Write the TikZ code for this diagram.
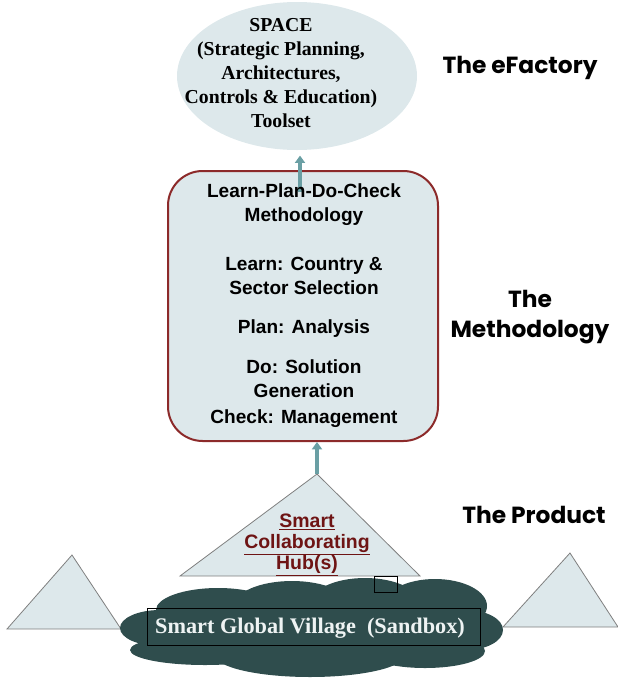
\documentclass[tikz,border=0pt]{standalone}
\usepackage{fontspec}
\setmainfont{Liberation Serif}
\newfontfamily\arialfont{Liberation Sans}
\newfontfamily\gothicfont{Poppins}
\usetikzlibrary{shapes.geometric,arrows.meta}
\definecolor{paleblue}{HTML}{DDE8EB}
\definecolor{flowteal}{HTML}{6A9FA4}
\definecolor{boxred}{HTML}{8C2A2A}
\definecolor{hubred}{HTML}{6E1414}
\definecolor{cloudgreen}{HTML}{2F4D4D}
\definecolor{edgegray}{HTML}{7F7F7F}
\definecolor{villagetext}{HTML}{EEF3F3}
\begin{document}
\begin{tikzpicture}[x=0.75pt,y=-0.75pt,
  flow/.style={flowteal, line width=2.3pt, -{Triangle[width=7.5pt,length=5.5pt]}},
  tri/.style={fill=paleblue, draw=edgegray, line width=0.6pt},
  puff/.style={fill=cloudgreen},
  serifbold/.style={font=\fontsize{14.8}{18}\selectfont\bfseries, align=center, anchor=base, inner sep=0pt},
  sansbold/.style={font=\arialfont\fontsize{14.3}{18}\selectfont\bfseries, align=center, anchor=base, inner sep=0pt},
  sidelabel/.style={font=\gothicfont\fontsize{17.5}{22}\selectfont\bfseries, align=center, anchor=base, inner sep=0pt}]
\useasboundingbox (0,0) rectangle (618,679);

% --- eFactory toolset ellipse (multi-line texts are anchored at their last baseline) ---
\node[ellipse, fill=paleblue, minimum width=180pt, minimum height=111pt, inner sep=0pt] (space) at (297,76) {};
\node[serifbold] (spacetext) at (281,127)
  {SPACE\\(Strategic Planning,\\Architectures,\\Controls \& Education)\\Toolset};

% --- methodology box ---
\node[draw=boxred, line width=1.5pt, fill=paleblue, rounded corners=26pt,
      minimum width=202.5pt, minimum height=202.5pt, inner sep=0pt] (method) at (303,306) {};
\coordinate (upA) at (300,192);
\draw[flow, shorten >=4pt] (upA) -- (upA |- space.south);
\node[sansbold] (methodtext) at (304,423)
  {Learn-Plan-Do-Check\\Methodology\\[18.75pt]
   Learn: Country \&\\Sector Selection\\[11.25pt]
   Plan: Analysis\\[12pt]
   Do: Solution\\Generation\\[1.5pt]
   Check: Management};

% --- smart collaborating hub ---
\coordinate (hubapex) at (317,474);
\coordinate (hubleft) at (180,576);
\coordinate (hubright) at (420,576);
\draw[tri] (hubapex) -- (hubleft) -- (hubright) -- cycle;
\draw[flow] (hubapex) -- (hubapex |- method.south);
\node[font=\arialfont\fontsize{14.6}{15.75}\selectfont\bfseries, text=hubred,
      align=center, anchor=base, inner sep=0pt] (hubtext) at (307,569)
  {\underline{Smart}\\\underline{Collaborating}\\\underline{Hub(s)}};

% --- neighbouring hubs ---
\draw[tri] (72,555) -- (7,629) -- (121,629) -- cycle;
\draw[tri] (570,553) -- (503,627) -- (618,627) -- cycle;

% --- global village cloud ---
\fill[puff] (160,628) ellipse [x radius=40, y radius=18];
\fill[puff] (205,650) ellipse [x radius=75, y radius=15];
\fill[puff] (218,610) ellipse [x radius=62, y radius=22];
\fill[puff] (292,606) ellipse [x radius=58, y radius=25];
\fill[puff] (365,604) ellipse [x radius=55, y radius=26];
\fill[puff] (435,606) ellipse [x radius=52, y radius=27];
\fill[puff] (466,630) ellipse [x radius=37, y radius=20];
\fill[puff] (425,651) ellipse [x radius=60, y radius=17];
\fill[puff] (310,655) ellipse [x radius=95, y radius=22];
\fill[puff] (312,628) ellipse [x radius=170, y radius=32];
\draw[line width=0.6pt] (374,576) rectangle (397,592);
\node[draw=black, line width=0.6pt, minimum width=249.75pt, minimum height=27.75pt, inner sep=0pt] (village) at (313.5,626.5) {};
\node[font=\fontsize{16.7}{20}\selectfont\bfseries, text=villagetext, anchor=base, inner sep=0pt]
  (villagetext) at (310,633) {Smart Global Village\ \ (Sandbox)};

% --- layer labels ---
\node[sidelabel] (efactory) at (520,73) {The eFactory};
\node[sidelabel] (methodology) at (530,337) {The\\Methodology};
\node[sidelabel] (product) at (534,523) {The Product};
\end{tikzpicture}
\end{document}
